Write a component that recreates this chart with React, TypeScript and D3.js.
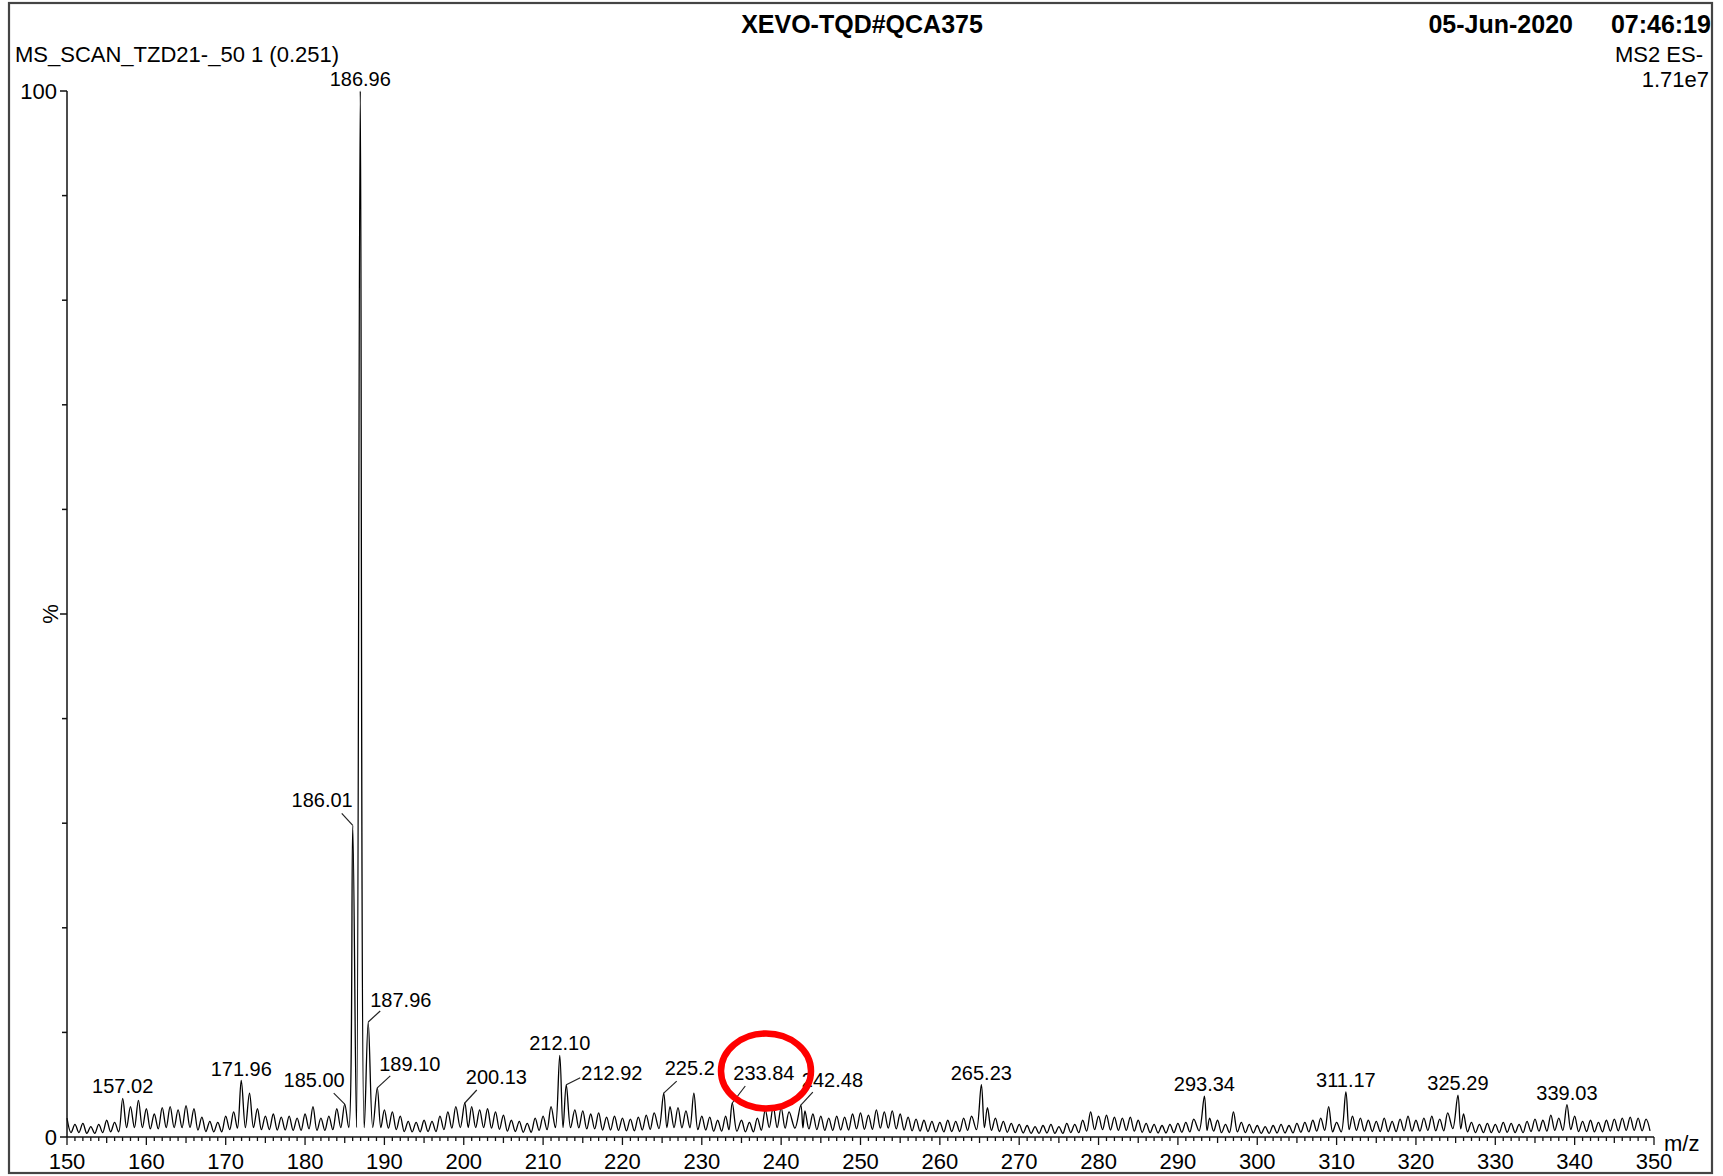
import { useRef, useEffect } from "react";
import * as d3 from "d3";

const width = 1723;
const height = 1176;
const font = "'Liberation Sans', Arial, sans-serif";

// labelled peaks (m/z, % of base peak)
const peakMz = [157.02, 171.96, 185.0, 186.01, 186.96, 187.96, 189.1, 200.13, 212.1, 212.92, 225.2, 233.84, 242.48, 265.23, 293.34, 311.17, 325.29, 339.03];
const peakPct = [3.7, 5.4, 3.15, 29.8, 100, 11.0, 4.7, 3.25, 7.8, 5.0, 4.2, 3.25, 3.05, 5.0, 3.9, 4.3, 4.0, 3.1];
const peakText = ["157.02", "171.96", "185.00", "186.01", "186.96", "187.96", "189.10", "200.13", "212.10", "212.92", "225.2", "233.84", "242.48", "265.23", "293.34", "311.17", "325.29", "339.03"];

// baseline noise, one bump per nominal mass 150..349 (null where a labelled peak sits)
const noiseStart = 150;
const noisePct = [
  1.8, 1.2, 1.3, 1.0, 1.2, 1.6, 1.4, null, 2.9, 3.5, // 150
  2.7, 2.2, 2.8, 2.9, 2.6, 3.0, 2.7, 1.9, 1.5, 1.4, // 160
  2.0, 2.4, null, 4.2, 2.7, 2.0, 2.2, 1.9, 2.0, 1.8, // 170
  2.2, 2.9, 1.8, 2.0, 2.7, null, null, null, null, null, // 180
  2.6, 2.4, 2.0, 1.5, 1.4, 1.6, 1.5, 2.0, 2.4, 2.9, // 190
  null, 2.9, 2.6, 2.7, 2.4, 2.1, 1.6, 1.5, 1.3, 1.8, // 200
  2.0, 2.9, null, null, 2.6, 2.5, 2.2, 2.3, 1.9, 2.0, // 210
  1.8, 1.7, 1.9, 2.1, 2.3, null, 2.9, 2.8, 2.5, 4.2, // 220
  2.0, 1.9, 1.6, 2.0, null, 1.6, 1.4, 1.8, 2.6, 2.9, // 230
  2.8, 2.4, null, 2.5, 2.2, 2.0, 1.8, 2.0, 1.9, 2.2, // 240
  2.3, 2.1, 2.6, 2.4, 2.5, 2.2, 1.9, 1.7, 1.6, 1.5, // 250
  1.4, 1.6, 1.5, 1.8, 2.0, null, 2.8, 1.8, 1.5, 1.3, // 260
  1.2, 1.1, 1.0, 1.1, 1.2, 1.0, 1.3, 1.2, 1.6, 2.4, // 270
  2.0, 2.1, 1.9, 1.8, 1.9, 1.6, 1.3, 1.2, 1.1, 1.2, // 280
  1.3, 1.4, 1.7, null, 1.8, 1.6, 1.2, 2.4, 1.4, 1.2, // 290
  1.1, 1.0, 1.1, 1.2, 1.1, 1.3, 1.4, 1.6, 1.8, 2.9, // 300
  1.4, null, 2.0, 1.8, 1.6, 1.5, 1.8, 1.5, 1.7, 2.0, // 310
  1.6, 1.8, 2.0, 1.7, 2.3, null, 2.2, 1.4, 1.2, 1.3, // 320
  1.2, 1.4, 1.3, 1.2, 1.5, 1.7, 1.6, 2.1, 1.8, null, // 330
  2.0, 1.5, 1.6, 1.4, 1.6, 1.7, 1.8, 1.9, 1.8, 1.7, // 340
];

const xTickLabels = [150, 160, 170, 180, 190, 200, 210, 220, 230, 240, 250, 260, 270, 280, 290, 300, 310, 320, 330, 340, 350];
const yTickLabels = [0, 100];

// labels drawn with a leader line: [leader dx, leader dy, text dx, text dy, anchor]
const leaders: Record<string, [number, number, number, number, string]> = {
  "185.00": [-11, -11, 0, -17, "end"],
  "186.01": [-11, -12, 0, -18, "end"],
  "187.96": [12, -11, 2, -15, "start"],
  "189.10": [13, -12, 2, -17, "start"],
  "200.13": [12, -13, 1, -19, "start"],
  "212.92": [14, -7, 15, -5, "start"],
  "225.2": [13, -12, 1, -18, "start"],
  "233.84": [13, -17, 1, -23, "start"],
  "242.48": [12, -13, 1, -18, "start"],
};

export default function App() {
  const ref = useRef<SVGSVGElement | null>(null);

  useEffect(() => {
    const svg = d3.select(ref.current).attr("viewBox", `0 0 ${width} ${height}`);
    svg.selectAll("*").remove();

    const x = d3.scaleLinear().domain([150, 350]).range([67, 1654]);
    const y = d3.scaleLinear().domain([0, 100]).range([1137, 91]);

    svg.append("rect").attr("width", width).attr("height", height).attr("fill", "#fff");
    svg
      .append("rect")
      .attr("x", 9)
      .attr("y", 3)
      .attr("width", 1703)
      .attr("height", 1170)
      .attr("fill", "none")
      .attr("stroke", "#444")
      .attr("stroke-width", 2.2);

    // profile trace: peak tops joined through shallow valleys
    type P = { mz: number; v: number };
    const tops: P[] = peakMz.map((mz, i) => ({ mz, v: peakPct[i] }));
    noisePct.forEach((v, i) => {
      if (v != null) tops.push({ mz: noiseStart + i, v });
    });
    tops.sort((a, b) => a.mz - b.mz);
    const trace: P[] = [];
    tops.forEach((p, i) => {
      trace.push(p);
      const n = tops[i + 1];
      const other = n ? n.v : p.v;
      const mid = n ? (p.mz + n.mz) / 2 : p.mz + 0.5;
      trace.push({ mz: mid, v: Math.min(0.35 * Math.min(p.v, other), 0.9) });
    });

    const line = d3
      .line<P>()
      .x((d) => x(d.mz))
      .y((d) => y(d.v))
      .curve(d3.curveCatmullRom.alpha(0.5));

    svg
      .append("path")
      .datum(trace)
      .attr("fill", "none")
      .attr("stroke", "#000")
      .attr("stroke-width", 1.3)
      .attr("stroke-linejoin", "round")
      .attr("d", line);

    // y axis
    const ya = svg.append("g").attr("stroke", "#111").attr("stroke-width", 1.5);
    ya.append("line").attr("x1", x(150)).attr("x2", x(150)).attr("y1", y(0)).attr("y2", y(100));
    ya.selectAll("line.t")
      .data(d3.range(0, 101, 10))
      .join("line")
      .attr("class", "t")
      .attr("x1", x(150))
      .attr("x2", (d) => x(150) - (d % 50 === 0 ? 7 : 5))
      .attr("y1", (d) => y(d))
      .attr("y2", (d) => y(d));
    svg
      .selectAll("text.yl")
      .data(yTickLabels)
      .join("text")
      .attr("class", "yl")
      .attr("x", x(150) - 10)
      .attr("y", (d) => y(d))
      .attr("dy", "0.36em")
      .attr("text-anchor", "end")
      .attr("font-family", font)
      .attr("font-size", 22)
      .text((d) => d);
    svg
      .append("text")
      .attr("transform", `translate(50,${y(50)}) rotate(-90)`)
      .attr("text-anchor", "middle")
      .attr("dy", "0.36em")
      .attr("font-family", font)
      .attr("font-size", 22)
      .text("%");

    // x axis
    const xa = svg.append("g").attr("stroke", "#111").attr("stroke-width", 1.3);
    xa.append("line").attr("x1", x(150)).attr("x2", x(350)).attr("y1", y(0)).attr("y2", y(0));
    xa.selectAll("line.t")
      .data(d3.range(150, 351, 1))
      .join("line")
      .attr("class", "t")
      .attr("x1", (d) => x(d))
      .attr("x2", (d) => x(d))
      .attr("y1", y(0))
      .attr("y2", (d) => y(0) + (d % 10 === 0 ? 8 : d % 5 === 0 ? 6 : 4));
    svg
      .selectAll("text.xl")
      .data(xTickLabels)
      .join("text")
      .attr("class", "xl")
      .attr("x", (d) => x(d))
      .attr("y", 1169)
      .attr("text-anchor", "middle")
      .attr("font-family", font)
      .attr("font-size", 22)
      .text((d) => d);
    svg
      .append("text")
      .attr("x", 1664)
      .attr("y", 1151)
      .attr("font-family", font)
      .attr("font-size", 22)
      .text("m/z");

    // peak labels
    peakMz.forEach((mz, i) => {
      const px = x(mz);
      const py = y(peakPct[i]);
      const lead = leaders[peakText[i]];
      if (lead) {
        const [lx, ly, tx, ty, anchor] = lead;
        svg
          .append("line")
          .attr("x1", px)
          .attr("y1", py)
          .attr("x2", px + lx)
          .attr("y2", py + ly)
          .attr("stroke", "#222")
          .attr("stroke-width", 1.2);
        svg
          .append("text")
          .attr("x", px + tx)
          .attr("y", py + ty)
          .attr("text-anchor", anchor)
          .attr("font-family", font)
          .attr("font-size", 20)
          .text(peakText[i]);
      } else {
        svg
          .append("text")
          .attr("x", px)
          .attr("y", py - 5)
          .attr("text-anchor", "middle")
          .attr("font-family", font)
          .attr("font-size", 20)
          .text(peakText[i]);
      }
    });

    // header
    svg
      .append("text")
      .attr("x", 862)
      .attr("y", 33)
      .attr("text-anchor", "middle")
      .attr("font-family", font)
      .attr("font-weight", "bold")
      .attr("font-size", 25)
      .text("XEVO-TQD#QCA375");
    svg
      .append("text")
      .attr("x", 1573)
      .attr("y", 33)
      .attr("text-anchor", "end")
      .attr("font-family", font)
      .attr("font-weight", "bold")
      .attr("font-size", 25)
      .text("05-Jun-2020");
    svg
      .append("text")
      .attr("x", 1711)
      .attr("y", 33)
      .attr("text-anchor", "end")
      .attr("font-family", font)
      .attr("font-weight", "bold")
      .attr("font-size", 25)
      .text("07:46:19");
    svg
      .append("text")
      .attr("x", 15)
      .attr("y", 62)
      .attr("font-family", font)
      .attr("font-size", 22)
      .text("MS_SCAN_TZD21-_50 1 (0.251)");
    svg
      .append("text")
      .attr("x", 1703)
      .attr("y", 62)
      .attr("text-anchor", "end")
      .attr("font-family", font)
      .attr("font-size", 22)
      .text("MS2 ES-");
    svg
      .append("text")
      .attr("x", 1709)
      .attr("y", 87)
      .attr("text-anchor", "end")
      .attr("font-family", font)
      .attr("font-size", 22)
      .text("1.71e7");

    // red annotation ring around 233.84
    svg
      .append("ellipse")
      .attr("cx", 766)
      .attr("cy", 1071)
      .attr("rx", 45)
      .attr("ry", 37.5)
      .attr("fill", "none")
      .attr("stroke", "#f00")
      .attr("stroke-width", 6.5);
  }, []);

  return (
    <svg
      ref={ref}
      width={width}
      height={height}
      style={{ position: "fixed", left: 0, top: 0, display: "block" }}
    />
  );
}
